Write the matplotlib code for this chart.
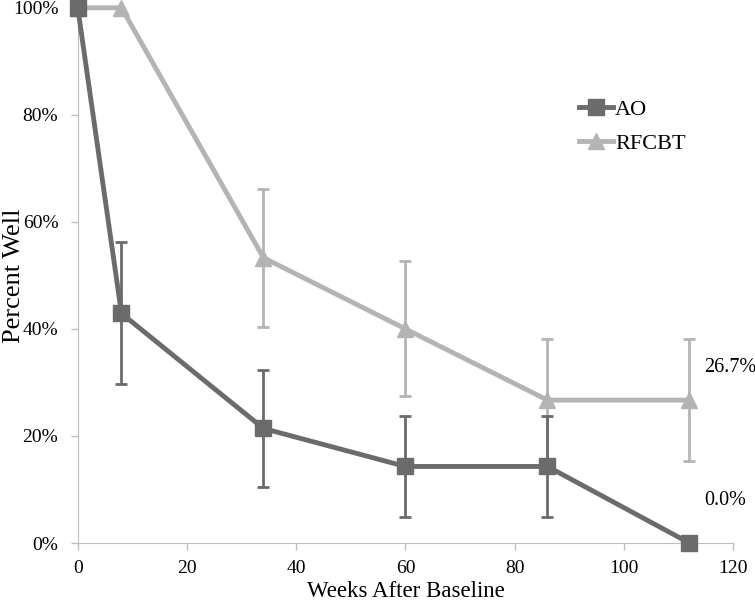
import matplotlib.pyplot as plt
from matplotlib.ticker import FuncFormatter

weeks = [0, 8, 34, 60, 86, 112]
ao = [100, 42.9, 21.4, 14.3, 14.3, 0]
ao_lo = [0, 29.8, 10.5, 4.9, 4.9, 0]
ao_hi = [0, 56.2, 32.3, 23.7, 23.7, 0]
rf = [100, 100, 53.3, 40.0, 26.7, 26.7]
rf_lo = [0, 0, 40.3, 27.4, 15.4, 15.4]
rf_hi = [0, 0, 66.2, 52.6, 38.1, 38.1]
end_labels = ["26.7%", "0.0%"]
end_y = [32.7, 8.0]

ao_col = "#6b6b6b"
rf_col = "#b4b4b4"
ax_col = "#bdbdbd"

plt.rcParams['font.family'] = ['Liberation Serif', 'DejaVu Serif']

fig = plt.figure(figsize=(7.55, 6.0), dpi=100)
ax = fig.add_axes([0.103, 0.095, 0.868, 0.892])

# error bars only where present
def err_pts(vals, lo, hi):
    xs, ys, el, eh = [], [], [], []
    for x, v, l, h in zip(weeks, vals, lo, hi):
        if h > 0:
            xs.append(x); ys.append(v); el.append(v - l); eh.append(h - v)
    return xs, ys, [el, eh]

xs, ys, yerr = err_pts(rf, rf_lo, rf_hi)
ax.errorbar(xs, ys, yerr=yerr, fmt='none', ecolor=rf_col, elinewidth=2, capsize=4, capthick=2, zorder=2)
xs, ys, yerr = err_pts(ao, ao_lo, ao_hi)
ax.errorbar(xs, ys, yerr=yerr, fmt='none', ecolor=ao_col, elinewidth=2, capsize=4, capthick=2, zorder=3)

ax.plot(weeks, rf, color=rf_col, lw=3.5, marker='^', ms=12, clip_on=False, label='RFCBT', zorder=4)
ax.plot(weeks, ao, color=ao_col, lw=3.5, marker='s', ms=11, clip_on=False, label='AO', zorder=5)

for txt, yv in zip(end_labels, end_y):
    ax.text(0.956, yv, txt, transform=ax.get_yaxis_transform(), fontsize=14.5,
            ha='left', va='center', clip_on=False)

ax.set_xlim(0, 120)
ax.set_ylim(0, 100)
ax.set_xticks(range(0, 121, 20))
ax.set_yticks(range(0, 101, 20))
ax.yaxis.set_major_formatter(FuncFormatter(lambda v, p: f"{int(v)}%"))
ax.tick_params(labelsize=14, color=ax_col, length=5, width=1)
ax.tick_params(axis='y', pad=9)
ax.tick_params(axis='x', pad=7)
for s in ['top', 'right']:
    ax.spines[s].set_visible(False)
for s in ['left', 'bottom']:
    ax.spines[s].set_color(ax_col)

ax.set_xlabel("Weeks After Baseline", fontsize=16.5)
ax.xaxis.label.set_verticalalignment('baseline')
ax.xaxis.set_label_coords(0.5, -0.1)
ax.set_ylabel("Percent Well", fontsize=19)
ax.yaxis.set_label_coords(-0.08, 0.5)

h, l = ax.get_legend_handles_labels()
ax.legend(h[::-1], l[::-1], loc='upper left', bbox_to_anchor=(0.735, 0.866), frameon=False,
          fontsize=16, handlelength=1.5, handletextpad=0.1, labelspacing=0.6)

fig.savefig("out.png", dpi=100)
